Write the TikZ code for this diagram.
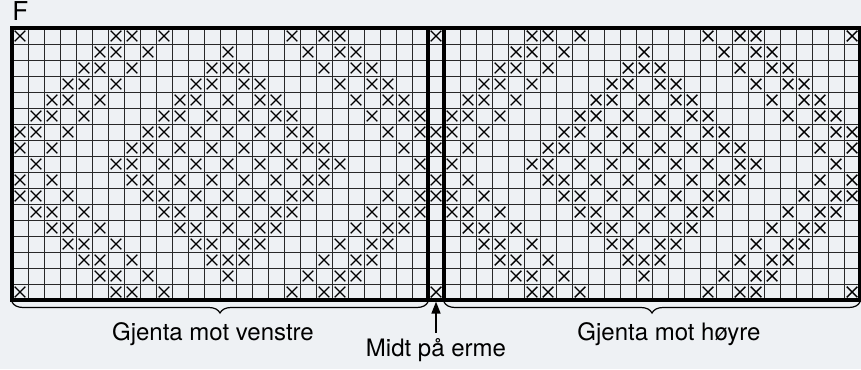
\documentclass[tikz,border=0pt]{standalone}
\usepackage{fontspec}
\setmainfont{TeX Gyre Heros}
\usepackage{tikz}
\usetikzlibrary{arrows.meta,positioning,calc,decorations.pathreplacing}
\definecolor{chartBg}{RGB}{238,241,244}
\definecolor{chartLine}{RGB}{40,40,40}

\tikzset{
  gridline/.style={chartLine, line width=0.45pt},
  frameline/.style={black, line width=1.6pt},
  knit/.style={black, line width=0.7pt},
  repbrace/.style={decorate, decoration={brace, mirror, amplitude=5.5pt},
                   black, line width=0.6pt},
  chartlabel/.style={font=\fontsize{12}{14}\selectfont, inner sep=0pt, anchor=base}
}

\begin{document}
\begin{tikzpicture}[x=8pt, y=-8pt]
        % background and page size
        \fill[chartBg] (-0.75,-1.75) rectangle (53.0625,21.3125);
        \useasboundingbox (-0.75,-1.75) rectangle (53.0625,21.3125);
        % chart name
        \node[font=\fontsize{13}{15}\selectfont, inner sep=0pt, anchor=base west]
          (chartF) at (0,-0.45) {F};
        % thin grid
        \foreach \i in {1,...,52}
          \draw[gridline] (\i,0) -- (\i,17);
        \foreach \j in {1,...,16}
          \draw[gridline] (0,\j) -- (53,\j);
        % crosses: rows 1-9, rows 10-17 mirror rows 8-1
        \foreach \r/\cols in {
            1/{1,7,8,10,18,20,21},
            2/{6,7,9,14,19,21,22},
            3/{5,6,8,13,14,15,20,22,23},
            4/{4,5,7,12,13,15,16,21,23,24},
            5/{3,4,6,11,12,14,16,17,22,24,25},
            6/{2,3,5,10,11,13,15,17,18,23,25,26},
            7/{1,2,4,9,10,12,14,16,18,19,24,26},
            8/{1,3,8,9,11,13,15,17,19,20,25},
            9/{2,7,8,10,12,14,16,18,20,21,26}}{
          \pgfmathtruncatemacro\rr{18-\r}
          \foreach \c in \cols {
            \foreach \off in {0,26,52}{
              \pgfmathtruncatemacro\g{\c+\off}
              \ifnum\g<54
                \draw[knit] (\g-0.5,\r-0.5) +(-0.33,-0.33) -- +(0.33,0.33)
                                            +(-0.33,0.33) -- +(0.33,-0.33);
                \ifnum\rr>9
                  \draw[knit] (\g-0.5,\rr-0.5) +(-0.33,-0.33) -- +(0.33,0.33)
                                               +(-0.33,0.33) -- +(0.33,-0.33);
                \fi
              \fi
            }
          }
        }
        % thick frame and middle stitch
        \draw[frameline] (0,0) rectangle (53,17);
        \draw[frameline] (26,0) -- (26,17);
        \draw[frameline] (27,0) -- (27,17);
        % braces
        \draw[repbrace] (0,17.125) -- (26,17.125);
        \draw[repbrace] (27,17.125) -- (53,17.125);
        % labels
        \node[chartlabel] (venstre) at (12.56,19.5) {Gjenta mot venstre};
        \node[chartlabel] (hoyre) at (41.06,19.5) {Gjenta mot høyre};
        \node[chartlabel] (midt) at (26.5,20.56) {Midt på erme};
        % arrow to middle stitch
        \coordinate (midtpkt) at (26.5,17.1);
        \draw[-{Triangle[length=6pt,width=4.5pt]}, line width=0.8pt]
          ($(midt.north)+(0,-0.35)$) -- (midtpkt);
      \end{tikzpicture}
\end{document}
